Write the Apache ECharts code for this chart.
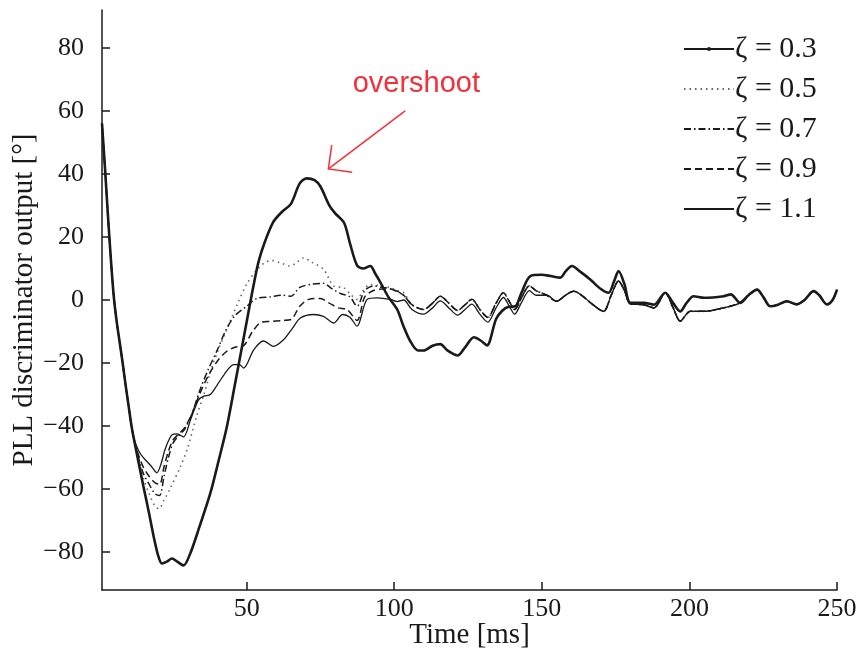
<!DOCTYPE html>
<html>
<head>
<meta charset="utf-8">
<script src="https://cdn.jsdelivr.net/npm/echarts@6/dist/echarts.min.js"></script>
<style>html,body{margin:0;padding:0;background:#fff}#c{width:862px;height:657px}</style>
</head>
<body>
<div id="c"></div>
<script>
// ---- data (time in ms, discriminator output in degrees) ----
const xTicks = [50, 100, 150, 200, 250];
const yTicks = [-80, -60, -40, -20, 0, 20, 40, 60, 80];
const legendNames = ['ζ = 0.3', 'ζ = 0.5', 'ζ = 0.7', 'ζ = 0.9', 'ζ = 1.1'];

const descent = [[1,56],[2,42],[3,27],[4,13],[5,1],[6,-7],[7,-13.5],[8,-20],[9,-27],[10,-33.5],[11,-40]];

const z03 = [[12,-45],[13.5,-52],[15,-59],[16.8,-67],[18.5,-75],[20,-81],[21.3,-83.6],[23,-83],[24.7,-82],[26.5,-83],[28.6,-84.2],
  [30.9,-80.4],[34,-72],[37.7,-61.3],[40.5,-51],[43.3,-40.2],[46,-27],[48,-17],[50,-7],[52,3],[54,12],[56,18],[59,24.7],[62,28],
  [65,30.5],[68,37],[70.4,38.6],[73,38],[75,36],[78,30],[80,27.5],[83,24.5],[85,18],[87.4,11],[89.5,10],[91.9,10.8],[93.5,8.5],
  [95.3,5.6],[98,1],[101,-3],[103,-8],[105.4,-13],[108,-16],[110,-16],[113,-14.5],[115.6,-14],[118,-16],[121.5,-17.6],[124,-15],
  [127,-11.8],[129.5,-13],[131.4,-14.4],[134.5,-6],[136.5,-3.5],[138.5,-2.2],[141,-2],[143,2],[146.1,7.6],[150,8],[153,7.6],
  [156.3,7.1],[158,9],[160.2,10.8],[163,9],[166.4,6.5],[170,3.5],[172.6,2.3],[174.5,6],[176,9.2],[178,5],[180,-0.9],[184.5,-0.9],
  [188,-1.5],[191.8,2.3],[194.5,-1],[196.9,-3.6],[199,-1],[201.4,1.2],[205,0.7],[211.6,1.2],[214,1.8]];

const z05 = [[12,-45],[13.5,-51],[15,-56.5],[17,-61.5],[19,-65.5],[20.3,-66.2],[22,-63.5],[24,-60],[27.5,-53],[30,-47],[33,-37],
  [35.5,-30],[38,-22],[40.5,-15.5],[43,-10],[45,-5.5],[47,-1],[50,5],[53,9],[56,11.8],[58.5,12.5],[61.4,11.8],[64.8,10.8],[67,12],
  [69.3,13.4],[72,12],[76.1,9.7],[79.5,4.4],[82.9,3.9],[85,2],[87.4,0.2],[89.5,3],[91.9,4.9],[95,4.5],[98.7,3.9],[101,3],[103.2,2.3]];

const z07 = [[12,-45],[13.5,-50.5],[15,-55],[17,-58.5],[19,-61.5],[20.5,-62],[22,-56],[23.5,-50],[25,-45.5],[27,-43],[29,-41],
  [31.5,-36],[34,-29],[37,-22],[40,-16],[43,-9.5],[46,-5],[50,-2],[53.5,0.5],[58,1],[62,1.5],[65,1.2],[68,4],[72,5],[76,5.3],
  [79,3.5],[82,2],[85,1],[87.4,-2],[90,3],[93,4.5],[96,4],[98.7,3.6],[101,2.8]];

const z09 = [[12,-45],[13.5,-49.5],[15,-53],[17,-56],[19,-58],[20.5,-58.5],[22,-53],[23.5,-48],[25,-44.5],[27,-42.5],[29,-40.5],
  [31.5,-36],[34,-30],[37,-24],[40,-19.5],[43,-16.5],[46,-15],[49,-14.5],[52,-10],[55,-7],[58,-6.8],[62,-6.5],[65,-6.2],[68,-2],
  [71,0.2],[75,0.5],[78,-1],[81,-2.5],[84,-3],[87.4,-6.5],[90,1],[93,3],[96,3.5],[98.7,3.5],[101,2.6]];

const z11 = [[12,-44.5],[13.5,-48],[15,-50],[17.5,-52.5],[19.6,-54.8],[21,-52],[22.5,-47],[24.7,-42.8],[26.5,-42.5],[28.6,-43.4],
  [31,-38],[33.7,-31.7],[35.5,-30.5],[37.7,-30],[40,-27],[42.5,-23.5],[45.6,-20.5],[47.5,-20.5],[49,-21.6],[52.4,-15.8],[55.7,-13],
  [59.1,-14.7],[62.5,-12.6],[65.5,-9],[68.2,-5.7],[72.7,-4.6],[76,-5.2],[79.5,-7.3],[82.5,-4.6],[85,-5.5],[87.4,-8.3],[90.8,0.2],
  [94.2,0.7],[98.7,0.2],[101,-0.5],[103.2,0],[106,-3],[109.9,-4.5],[113,-2.5],[115.6,-0.3],[118.5,-2.5],[121.5,-4.8],[124,-3],
  [126.3,-1.3],[129,-4.5],[131.7,-7],[134.5,-2.5],[137,0.8],[139,-2],[140.8,-4.5],[143,-1],[145.8,3],[148,1.5]];

// shared bundle of the higher-damping curves after ~100 ms
const bundle = [[103.2,1.5],[106,-1.5],[109.9,-3],[113,-1],[115.6,1.2],[118.5,-1],[121.5,-3.3],[124,-1.5],[126.3,0.2],[129,-3],
  [131.7,-5.5],[134.5,-1],[137,2.3],[139,-0.5],[140.8,-3],[143,0.5],[145.8,4.5],[148,3],[151.7,1.5],[155,-0.4],[158,1.5],
  [160.8,2.8],[163.5,1.5],[166.4,-0.8],[170.9,-3.6],[173.5,1.5],[176,6],[178,3],[180,-1.2],[184.5,-1.5],[188,-2.5],[191.8,2.3],
  [194.5,-2.5],[196.9,-6.7],[200.3,-3.6],[204.8,-3.6],[211.6,-2.5],[216,-1.4]];

const tail = [[217.2,-0.9],[220,1.5],[222.9,3.3],[225,1],[227.4,-2],[230,-1.5],[233,-0.4],[236.4,-1.4],[239,0],[242.1,2.8],
  [244,1.5],[246.6,-1.4],[248.5,0],[250,3.3]];

// annotation anchor points (data coordinates)
const arrowTail = [103.7, 60];
const arrowTip = [77.7, 41.6];
const labelPos = [107.5, 68.5];

// ---- build ----
function after(arr, t0) { return arr.filter(p => p[0] > t0); }
function lastT(arr) { return arr[arr.length - 1][0]; }
const d03 = descent.concat(z03, tail);
const d05 = descent.concat(z05, after(bundle, lastT(z05)), tail);
const d07 = descent.concat(z07, after(bundle, lastT(z07)), tail);
const d09 = descent.concat(z09, after(bundle, lastT(z09)), tail);
const d11 = descent.concat(z11, after(bundle, lastT(z11)), tail);

const serif = 'Liberation Serif';
const ink = '#1a1a1a';
const chart = echarts.init(document.getElementById('c'), null, {renderer: 'canvas'});

function ser(name, data, lineStyle, extra) {
  return Object.assign({
    name: name, type: 'line', data: data, smooth: 0.3, symbol: 'none',
    lineStyle: Object.assign({color: ink}, lineStyle), itemStyle: {color: ink},
    emphasis: {disabled: true}, z: 2
  }, extra || {});
}

chart.setOption({
  animation: false,
  backgroundColor: '#fff',
  grid: {left: 102, right: 25, top: 10, bottom: 67, containLabel: false, outerBoundsMode: 'none'},
  legend: {
    left: 678, top: 29, orient: 'vertical', itemWidth: 50, itemHeight: 5, itemGap: 10,
    itemStyle: {opacity: 0},
    textStyle: {fontFamily: serif, fontSize: 30, color: ink, padding: [0, 0, 0, -4]},
    data: [
      {name: legendNames[0], itemStyle: {opacity: 1}},
      legendNames[1], legendNames[2], legendNames[3], legendNames[4]
    ]
  },
  xAxis: {
    type: 'value', min: 1, max: 250,
    name: 'Time [ms]', nameLocation: 'middle', nameGap: 31, nameMoveOverlap: false,
    nameTextStyle: {fontFamily: serif, fontSize: 29, color: ink},
    axisLine: {onZero: false, lineStyle: {color: ink, width: 1.5}},
    axisTick: {inside: true, length: 8, customValues: xTicks, lineStyle: {color: ink, width: 1.5}},
    axisLabel: {customValues: xTicks, fontFamily: serif, fontSize: 26, color: ink, margin: 6},
    splitLine: {show: false}
  },
  yAxis: {
    type: 'value', min: -92, max: 92,
    name: 'PLL discriminator output [°]', nameLocation: 'middle', nameGap: 63, nameMoveOverlap: false,
    nameTextStyle: {fontFamily: serif, fontSize: 29, color: ink},
    axisLine: {show: true, onZero: false, lineStyle: {color: ink, width: 1.5}},
    axisTick: {show: true, inside: true, length: 8, customValues: yTicks, lineStyle: {color: ink, width: 1.5}},
    axisLabel: {customValues: yTicks, fontFamily: serif, fontSize: 26, color: ink, margin: 18,
      formatter: v => String(v).replace('-', '\u2212')},
    splitLine: {show: false}
  },
  series: [
    ser(legendNames[0], d03, {width: 2.6}, {symbol: 'circle', symbolSize: 4, showSymbol: false, z: 5}),
    ser(legendNames[1], d05, {width: 1.6, type: [1.5, 4], color: '#666'}, {itemStyle: {color: '#666'}}),
    ser(legendNames[2], d07, {width: 1.5, type: [7, 3, 1.5, 3]}),
    ser(legendNames[3], d09, {width: 1.5, type: [7, 4]}),
    ser(legendNames[4], d11, {width: 1.3})
  ]
});

// annotation: red arrow + "overshoot" label, placed from data coordinates
const red = '#f2303a';
const pT = chart.convertToPixel({gridIndex: 0}, arrowTail);
const pH = chart.convertToPixel({gridIndex: 0}, arrowTip);
const pL = chart.convertToPixel({gridIndex: 0}, labelPos);
const dx = pT[0] - pH[0], dy = pT[1] - pH[1], len = Math.hypot(dx, dy);
const ux = dx / len, uy = dy / len, arm = 24, a = Math.PI / 4;
function rot(x, y, ang) { return [x * Math.cos(ang) - y * Math.sin(ang), x * Math.sin(ang) + y * Math.cos(ang)]; }
const r1 = rot(ux, uy, a), r2 = rot(ux, uy, -a);
chart.setOption({
  graphic: [
    {type: 'line', silent: true, z: 10, shape: {x1: pT[0], y1: pT[1], x2: pH[0], y2: pH[1]}, style: {stroke: red, lineWidth: 1.5}},
    {type: 'polyline', silent: true, z: 10, shape: {points: [[pH[0] + r1[0] * arm, pH[1] + r1[1] * arm], pH, [pH[0] + r2[0] * arm, pH[1] + r2[1] * arm]]},
      style: {stroke: red, lineWidth: 1.5, fill: null}},
    {type: 'text', silent: true, z: 10, x: pL[0], y: pL[1],
      style: {text: 'overshoot', fill: red, fontFamily: 'Liberation Sans', fontSize: 29, align: 'center', verticalAlign: 'middle'}}
  ]
});
</script>
</body>
</html>
